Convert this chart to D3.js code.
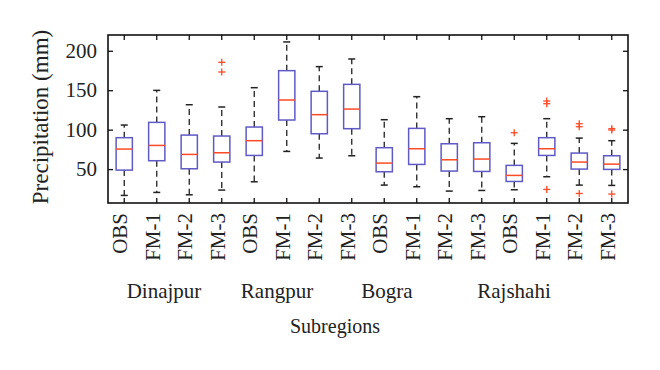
<!DOCTYPE html>
<html>
<head>
<meta charset="utf-8">
<script src="https://cdn.jsdelivr.net/npm/d3@7"></script>
<style>
  body { margin: 0; background: #fff; }
  svg { display: block; font-family: "Liberation Serif", serif; }
</style>
</head>
<body>
<svg id="chart" width="660" height="370"></svg>
<script>
// regions and model runs
const regions = ["Dinajpur", "Rangpur", "Bogra", "Rajshahi"];
const runs = ["OBS", "FM-1", "FM-2", "FM-3"];

// box stats per box, in order region x run
const whiskLow = [16.6, 20.4, 17.4, 23.4, 33.9, 72.4, 64.0, 66.9, 29.7, 27.6, 22.1, 22.9, 23.8, 40.3, 29.7, 29.3];
const q1       = [48.7, 60.6, 50.4, 58.9, 67.3, 112.2, 94.8, 101.2, 46.6, 55.9, 47.5, 47.0, 34.3, 67.3, 50.0, 49.6];
const median   = [75.4, 80.0, 68.6, 70.7, 86.0, 137.6, 119.0, 126.1, 57.6, 75.8, 61.8, 62.7, 42.0, 75.8, 58.9, 56.3];
const q3       = [89.8, 109.2, 93.1, 91.9, 103.3, 174.8, 148.6, 157.4, 77.1, 101.6, 82.1, 83.4, 54.7, 89.8, 70.3, 66.9];
const whiskHigh = [105.8, 149.8, 131.6, 128.7, 153.2, 211.2, 179.9, 189.6, 112.6, 141.8, 113.9, 116.4, 82.6, 113.9, 89.3, 86.0];

// outliers: [box index, value]
const outliers = [
  [3, 185.4], [3, 173.1],
  [12, 96.1],
  [13, 136.3], [13, 132.9], [13, 24.2],
  [14, 107.5], [14, 103.7], [14, 19.1],
  [15, 101.2], [15, 99.5], [15, 18.3]
];

const yTicks = [50, 100, 150, 200];

const boxes = d3.range(regions.length * runs.length).map(i => ({
  i,
  run: runs[i % runs.length],
  lo: whiskLow[i], q1: q1[i], med: median[i], q3: q3[i], hi: whiskHigh[i]
}));

const svg = d3.select("#chart");
const pLeft = 108, pRight = 628, pTop = 35, pBottom = 203;

const x = d3.scaleBand()
  .domain(boxes.map(d => d.i))
  .range([pLeft, pRight]);
const cx = i => x(i) + x.bandwidth() / 2;
const boxW = x.bandwidth() * 0.5;
const capW = 7;

const y = d3.scaleLinear()
  .domain([7, 220])
  .range([pBottom, pTop]);

const blue = "#5f5ac6", red = "#ff4a26";

// whiskers (dashed) and caps
const g = svg.append("g");
g.selectAll(".wh-up")
  .data(boxes).enter().append("line")
  .attr("x1", d => cx(d.i)).attr("x2", d => cx(d.i))
  .attr("y1", d => y(d.q3)).attr("y2", d => y(d.hi))
  .attr("stroke", "#222").attr("stroke-width", 1.3)
  .attr("stroke-dasharray", "6,4");
g.selectAll(".wh-lo")
  .data(boxes).enter().append("line")
  .attr("x1", d => cx(d.i)).attr("x2", d => cx(d.i))
  .attr("y1", d => y(d.q1)).attr("y2", d => y(d.lo))
  .attr("stroke", "#222").attr("stroke-width", 1.3)
  .attr("stroke-dasharray", "6,4");
["hi", "lo"].forEach(k => {
  g.selectAll(".cap-" + k)
    .data(boxes).enter().append("line")
    .attr("x1", d => cx(d.i) - capW / 2).attr("x2", d => cx(d.i) + capW / 2)
    .attr("y1", d => y(d[k])).attr("y2", d => y(d[k]))
    .attr("stroke", "#222").attr("stroke-width", 1.5);
});

g.selectAll(".box")
  .data(boxes).enter().append("rect")
  .attr("x", d => cx(d.i) - boxW / 2)
  .attr("y", d => y(d.q3))
  .attr("width", boxW)
  .attr("height", d => y(d.q1) - y(d.q3))
  .attr("fill", "none")
  .attr("stroke", blue).attr("stroke-width", 1.5);

g.selectAll(".med")
  .data(boxes).enter().append("line")
  .attr("x1", d => cx(d.i) - boxW / 2).attr("x2", d => cx(d.i) + boxW / 2)
  .attr("y1", d => y(d.med)).attr("y2", d => y(d.med))
  .attr("stroke", red).attr("stroke-width", 1.5);

// outlier crosses
const outG = g.selectAll(".out")
  .data(outliers).enter().append("g")
  .attr("transform", d => `translate(${cx(d[0])},${y(d[1])})`)
  .attr("stroke", red).attr("stroke-width", 1.3);
outG.append("line").attr("x1", -3.5).attr("x2", 3.5);
outG.append("line").attr("y1", -3.5).attr("y2", 3.5);

// axes, ticks pointing inward on all sides
const yl = svg.append("g")
  .attr("transform", `translate(${pLeft},0)`)
  .call(d3.axisLeft(y).tickValues(yTicks).tickSizeInner(-5).tickSizeOuter(0).tickPadding(11));
svg.append("g")
  .attr("transform", `translate(${pRight},0)`)
  .call(d3.axisRight(y).tickValues(yTicks).tickSizeInner(-5).tickSizeOuter(0).tickFormat(""));
svg.append("g")
  .attr("transform", `translate(0,${pTop})`)
  .call(d3.axisTop(x).tickSizeInner(-5).tickSizeOuter(0).tickFormat(""));
const xl = svg.append("g")
  .attr("transform", `translate(0,${pBottom})`)
  .call(d3.axisBottom(x).tickSizeInner(-5).tickSizeOuter(0).tickFormat(i => runs[i % runs.length]));

svg.selectAll(".domain").remove();
svg.selectAll(".tick line").attr("stroke", "#111").attr("stroke-width", 1.3);

yl.selectAll("text")
  .attr("font-family", "Liberation Serif").attr("font-size", 21).attr("fill", "#222");
xl.selectAll("text")
  .attr("font-family", "Liberation Serif").attr("font-size", 21).attr("fill", "#222")
  .attr("transform", "rotate(-90)")
  .attr("text-anchor", "end")
  .attr("x", -10).attr("y", 3).attr("dy", null);

svg.append("rect")
  .attr("x", pLeft).attr("y", pTop)
  .attr("width", pRight - pLeft).attr("height", pBottom - pTop)
  .attr("fill", "none").attr("stroke", "#111").attr("stroke-width", 1.6);

// region labels under the tick labels
const regionLabelX = [164, 277, 387, 514];
svg.selectAll(".region")
  .data(regions).enter().append("text")
  .attr("x", (d, i) => regionLabelX[i]).attr("y", 298)
  .attr("text-anchor", "middle")
  .attr("font-size", 21).attr("fill", "#222")
  .text(d => d);

svg.append("text")
  .attr("x", 335).attr("y", 333)
  .attr("text-anchor", "middle")
  .attr("font-size", 20).attr("fill", "#222")
  .text("Subregions");

svg.append("text")
  .attr("transform", `translate(48,${(pTop + pBottom) / 2 - 2}) rotate(-90)`)
  .attr("text-anchor", "middle")
  .attr("font-size", 23).attr("fill", "#222")
  .text("Precipitation (mm)");
</script>
</body>
</html>
